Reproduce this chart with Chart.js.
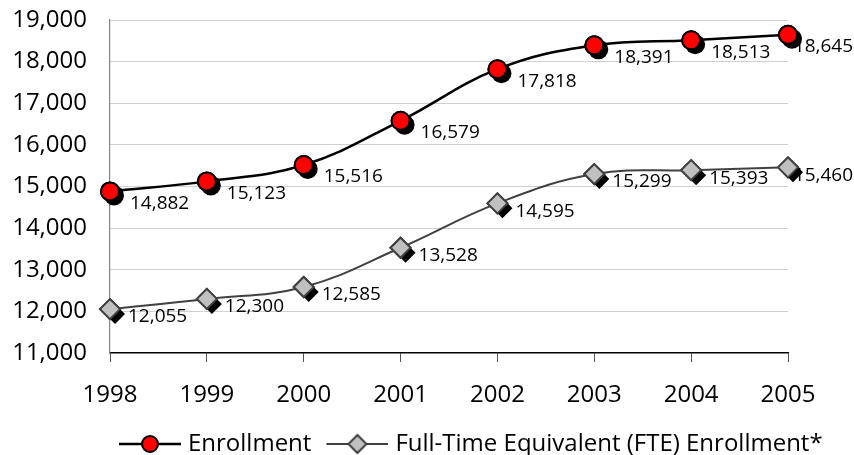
<!DOCTYPE html>
<html>
<head>
<meta charset="utf-8">
<script src="https://cdn.jsdelivr.net/npm/chart.js@4.4.1/dist/chart.umd.min.js"></script>
<style>
  html, body { margin: 0; padding: 0; background: #ffffff; }
  #wrap { width: 854px; height: 455px; }
</style>
</head>
<body>
<div id="wrap"><canvas id="c" width="854" height="455"></canvas></div>
<script>
// ---- data ----
const years = ['1998', '1999', '2000', '2001', '2002', '2003', '2004', '2005'];
const enrollment = [14882, 15123, 15516, 16579, 17818, 18391, 18513, 18645];
const fteEnrollment = [12055, 12300, 12585, 13528, 14595, 15299, 15393, 15460];
const seriesNames = ['Enrollment', 'Full-Time Equivalent (FTE) Enrollment*'];
const yMin = 11000, yMax = 19000, yStep = 1000;

const FONT = "'Open Sans', 'DejaVu Sans', sans-serif";
Chart.defaults.font.family = FONT;
Chart.defaults.color = '#000000';

const fmt = v => Number(v).toLocaleString('en-US');

// legend icons (line through marker)
function legendIcon(kind) {
  const c = document.createElement('canvas');
  c.width = 80; c.height = 24;
  const g = c.getContext('2d');
  const cy = 12, x0 = 18, x1 = 80, cx = (x0 + x1) / 2;
  g.lineWidth = kind === 'circle' ? 2.5 : 2;
  g.strokeStyle = kind === 'circle' ? '#000000' : '#404040';
  g.beginPath(); g.moveTo(x0, cy); g.lineTo(x1, cy); g.stroke();
  if (kind === 'circle') {
    g.beginPath(); g.arc(cx, cy, 8, 0, Math.PI * 2);
    g.fillStyle = '#ff0000'; g.fill();
    g.lineWidth = 2; g.strokeStyle = '#000000'; g.stroke();
  } else {
    const r = 9;
    g.beginPath(); g.moveTo(cx, cy - r); g.lineTo(cx + r, cy); g.lineTo(cx, cy + r); g.lineTo(cx - r, cy); g.closePath();
    g.fillStyle = '#c0c0c0'; g.fill();
    g.lineWidth = 2; g.strokeStyle = '#404040'; g.stroke();
  }
  return c;
}
const legendIcons = [legendIcon('circle'), legendIcon('diamond')];

const labelStyle = [
  { dx: 20, dy: 12 },
  { dx: 18, dy: 8 }
];

// place the legend under the plot as in the reference
const legendPlacement = {
  id: 'legendPlacement',
  afterLayout(chart) {
    const lg = chart.legend;
    if (!lg) return;
    lg.left += 104;
    lg.right = chart.width;
    lg.top += 2;
    lg.bottom += 2;
  }
};

const shadowAndLabels = {
  id: 'shadowAndLabels',
  afterDatasetsDraw(chart) {
    const ctx = chart.ctx;
    chart.data.datasets.forEach((ds, i) => {
      const meta = chart.getDatasetMeta(i);
      ctx.save();
      ctx.fillStyle = '#000000';
      meta.data.forEach(pt => {
        const r = pt.options.radius;
        if (ds.pointStyle === 'circle') {
          ctx.beginPath(); ctx.arc(pt.x + 4, pt.y + 4, r + 1, 0, Math.PI * 2); ctx.fill();
        } else {
          const x = pt.x + 5, y = pt.y + 5;
          ctx.beginPath(); ctx.moveTo(x, y - r); ctx.lineTo(x + r, y); ctx.lineTo(x, y + r); ctx.lineTo(x - r, y); ctx.closePath(); ctx.fill();
        }
      });
      ctx.restore();
      meta.data.forEach(pt => pt.draw(ctx, chart.chartArea));
    });
    // data labels
    ctx.save();
    ctx.font = '19px ' + FONT;
    ctx.fillStyle = '#000000';
    ctx.textAlign = 'left';
    ctx.textBaseline = 'middle';
    chart.data.datasets.forEach((ds, i) => {
      const meta = chart.getDatasetMeta(i);
      const st = labelStyle[i];
      meta.data.forEach((pt, j) => {
        const txt = fmt(ds.data[j]);
        const w = ctx.measureText(txt).width;
        let x = pt.x + st.dx;
        if (x + w > chart.width - 1) x = chart.width - 1 - w;
        ctx.fillText(txt, x, pt.y + st.dy);
      });
    });
    ctx.restore();
  }
};

new Chart(document.getElementById('c'), {
  type: 'line',
  data: {
    labels: years,
    datasets: [
      {
        label: seriesNames[0],
        data: enrollment,
        borderColor: '#000000',
        borderWidth: 2.5,
        tension: 0.4,
        pointStyle: 'circle',
        pointRadius: 9,
        pointBackgroundColor: '#ff0000',
        pointBorderColor: '#000000',
        pointBorderWidth: 2,
        clip: false
      },
      {
        label: seriesNames[1],
        data: fteEnrollment,
        borderColor: '#404040',
        borderWidth: 2,
        tension: 0.4,
        pointStyle: 'rectRot',
        pointRadius: 10,
        pointBackgroundColor: '#c0c0c0',
        pointBorderColor: '#404040',
        pointBorderWidth: 2,
        clip: false
      }
    ]
  },
  options: {
    responsive: false,
    devicePixelRatio: 1,
    animation: false,
    events: [],
    layout: { padding: { left: 0, right: 4, top: 20, bottom: -9 } },
    scales: {
      x: {
        type: 'category',
        offset: false,
        grid: { display: true, drawOnChartArea: false, drawTicks: true, tickLength: 9, color: '#555555', lineWidth: 1 },
        border: { display: true, color: '#000000', width: 1.5 },
        ticks: { font: { size: 24 }, color: '#000000', padding: 19, maxRotation: 0, autoSkip: false },
        afterFit(s) { s.height = 75; }
      },
      y: {
        min: yMin, max: yMax,
        grid: {
          drawTicks: true,
          tickLength: 23,
          tickColor: 'rgba(0,0,0,0)',
          lineWidth: 1,
          color: c => (c.tick && c.tick.value === yMin) ? 'rgba(0,0,0,0)' : '#d0d0d0'
        },
        border: { display: true, color: '#868686', width: 1.2 },
        ticks: { stepSize: yStep, font: { size: 24 }, color: '#000000', padding: 0, callback: v => fmt(v) },
        afterFit(s) { s.width = 110; }
      },
      y2: {
        position: 'right',
        display: true,
        grid: { display: false, drawTicks: false },
        border: { display: false },
        ticks: { display: false },
        afterFit(s) { s.width = 62; }
      }
    },
    plugins: {
      tooltip: { enabled: false },
      legend: {
        position: 'bottom',
        align: 'start',
        labels: {
          usePointStyle: true,
          pointStyleWidth: 70,
          padding: 2,
          font: { size: 24 },
          color: '#000000',
          generateLabels(chart) {
            const items = Chart.defaults.plugins.legend.labels.generateLabels(chart);
            items.forEach((it, i) => { it.pointStyle = legendIcons[i]; });
            return items;
          }
        }
      }
    }
  },
  plugins: [legendPlacement, shadowAndLabels]
});
</script>
</body>
</html>
